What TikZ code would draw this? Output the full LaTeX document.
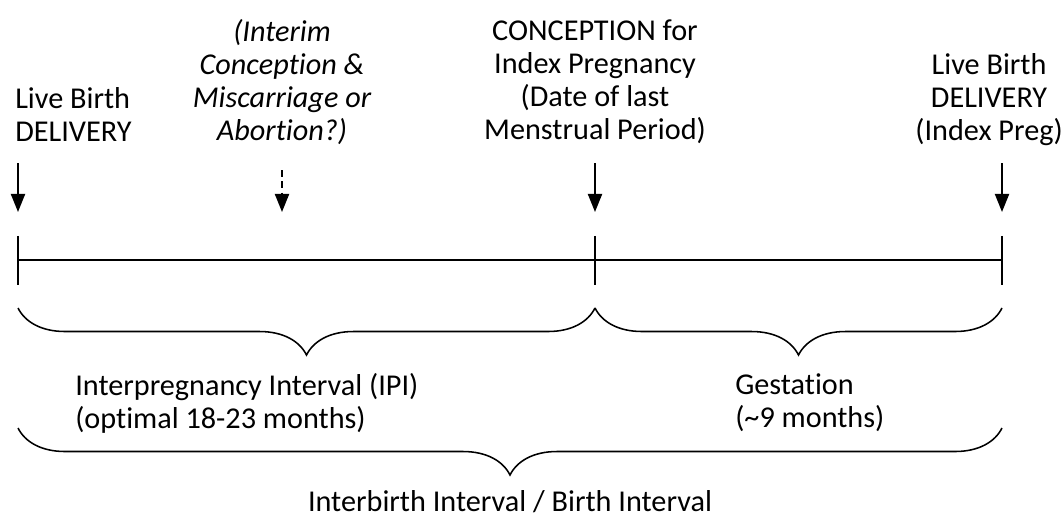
\documentclass[tikz,border=0pt]{standalone}
\usepackage{fontspec}
\setmainfont{Carlito}[Ligatures=NoCommon]
\usetikzlibrary{arrows.meta,decorations.pathreplacing,positioning}
\newcommand{\lblfont}{\fontsize{21.5}{23.5}\selectfont}

\begin{document}
\begin{tikzpicture}[x=0.025cm,y=-0.025cm,
  every node/.style={inner sep=0pt,font=\lblfont},
  evt/.style={-{Triangle[length=4.5mm,width=3.5mm]},line width=1.4pt},
  tickln/.style={line width=1.4pt},
  brc/.style={decorate,decoration={brace,mirror,amplitude=1.175cm},line width=1.1pt}]
\useasboundingbox (0,0) rectangle (1064,521);
% labels on top
\node[anchor=north west,align=left] (liveA) at (15,87) {Live Birth\\DELIVERY};
\node[anchor=north,align=center,font=\lblfont\itshape] (interim) at (282,19) {(Interim\\Conception \&\\Miscarriage or\\Abortion?)};
\node[anchor=north,align=center] (concep) at (595,19) {CONCEPTION for\\Index Pregnancy\\(Date of last\\Menstrual Period)};
\node[anchor=north east,align=center] (liveB) at (1063,53) {Live Birth\\DELIVERY\\(Index Preg)};
% time line
\coordinate (t0) at (18,260);
\coordinate (tx) at (282,260);
\coordinate (t1) at (595,260);
\coordinate (t2) at (1002,260);
\draw[line width=1.1pt] (t0) -- (t1) -- (t2);
\foreach \p in {t0,t1,t2}
  \draw[tickln] ([yshift=0.6cm]\p) -- ([yshift=-0.62cm]\p);
% arrows
\coordinate (a0) at (18,163);
\coordinate (ax) at (282,170);
\coordinate (a1) at (595,163);
\coordinate (a2) at (1002,163);
\draw[evt] (a0) -- ([yshift=1.2cm]t0);
\draw[evt,dash pattern=on 5pt off 3pt] (ax) -- ([yshift=1.2cm]tx);
\draw[evt] (a1) -- ([yshift=1.2cm]t1);
\draw[evt] (a2) -- ([yshift=1.2cm]t2);
% braces
\coordinate (b0) at (18,308);
\coordinate (b1) at (595,308);
\coordinate (b2) at (1002,308);
\draw[brc] (b0) -- (b1);
\draw[brc] (b1) -- (b2);
\coordinate (c0) at (18,428);
\coordinate (c2) at (1002,428);
\draw[brc] (c0) -- (c2);
% interval labels
\node[anchor=north west,align=left] (ipi) at (75,373) {Interpregnancy Interval (IPI)\\(optimal 18-23 months)};
\node[anchor=north west,align=left] (gest) at (735,373) {Gestation\\(\textasciitilde9 months)};
\node[anchor=north] (ibi) at (510,490) {Interbirth Interval / Birth Interval};
\end{tikzpicture}
\end{document}
